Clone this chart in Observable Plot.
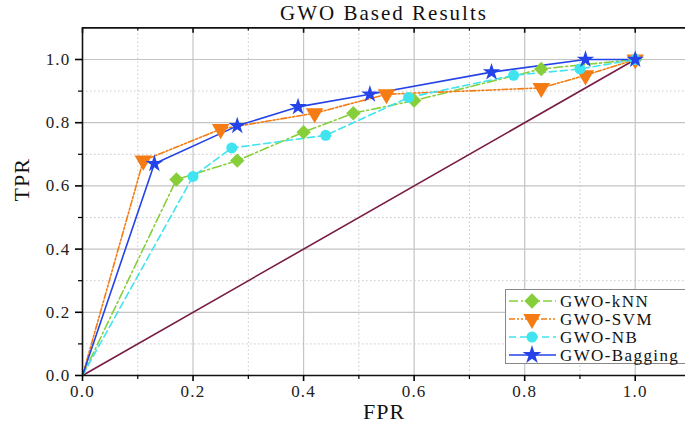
<!DOCTYPE html>
<html><head><meta charset="utf-8">
<script src="https://cdn.jsdelivr.net/npm/d3@7"></script>
<script src="https://cdn.jsdelivr.net/npm/@observablehq/plot@0.6"></script>
<style>
body{margin:0;background:#fff}
#wrap{position:relative;width:685px;height:432px;overflow:hidden;background:#fff}
#legend{position:absolute;left:0;top:0}
#wrap svg text{font-family:'Liberation Serif','Times New Roman',serif !important}
#wrap g[aria-label*="tick label"] text{font-size:17px !important;letter-spacing:1.2px}
</style>
</head><body><div id="wrap"></div>
<script>
// ---- data ----
const seriesNames = ["GWO-kNN", "GWO-SVM", "GWO-NB", "GWO-Bagging"];
const fprKNN = [0, 0.17, 0.28, 0.40, 0.49, 0.60, 0.83, 1.0];
const tprKNN = [0, 0.62, 0.68, 0.77, 0.83, 0.87, 0.97, 1.0];
const fprSVM = [0, 0.11, 0.25, 0.42, 0.55, 0.83, 0.91, 1.0];
const tprSVM = [0, 0.68, 0.78, 0.83, 0.89, 0.91, 0.95, 1.0];
const fprNB  = [0, 0.20, 0.27, 0.44, 0.59, 0.78, 0.90, 1.0];
const tprNB  = [0, 0.63, 0.72, 0.76, 0.88, 0.95, 0.97, 1.0];
const fprBag = [0, 0.13, 0.28, 0.39, 0.52, 0.74, 0.91, 1.0];
const tprBag = [0, 0.67, 0.79, 0.85, 0.89, 0.96, 1.0, 1.0];
const diagFPR = [0, 1];
const diagTPR = [0, 1];
const majorTicks = [0, 0.2, 0.4, 0.6, 0.8, 1.0];
const minorTicks = [0.1, 0.3, 0.5, 0.7, 0.9];

// ---- styles ----
const colors = ["#86cf3a", "#f57c12", "#3fe4ef", "#2443e8"];
const dashes = ["9,3,2,3", "6,2,2,2,2,2", "7,4", null];
const symbols = ["diamond2", "triangle", "circle", "star"];
const rotations = [0, 180, 0, 0];
const sizes = [6.5, 6.5, 5.5, 5.5];
const serif = "'Liberation Serif', 'Times New Roman', serif";

const xsList = [fprKNN, fprSVM, fprNB, fprBag];
const ysList = [tprKNN, tprSVM, tprNB, tprBag];
const series = seriesNames.map((name, i) => xsList[i].map((x, j) => ({name, fpr: x, tpr: ysList[i][j]})));
const diag = diagFPR.map((x, j) => ({fpr: x, tpr: diagTPR[j]}));

const marks = [
  Plot.ruleX(minorTicks, {y1: 0, y2: 1.1, stroke: "#c9c9c9", strokeDasharray: "1.5,2.5", strokeOpacity: 1}),
  Plot.ruleY(minorTicks, {x1: 0, x2: 1.1, stroke: "#c9c9c9", strokeDasharray: "1.5,2.5", strokeOpacity: 1}),
  Plot.ruleX(majorTicks.slice(1), {y1: 0, y2: 1.1, stroke: "#c4c4c4", strokeWidth: 1.2}),
  Plot.ruleY(majorTicks.slice(1), {x1: 0, x2: 1.1, stroke: "#c4c4c4", strokeWidth: 1.2}),
  Plot.line(diag, {x: "fpr", y: "tpr", stroke: "#781c45", strokeWidth: 1.6})
];
series.forEach((d, i) => {
  marks.push(Plot.line(d, {x: "fpr", y: "tpr", stroke: colors[i], strokeWidth: 1.6, strokeDasharray: dashes[i]}));
});
series.forEach((d, i) => {
  marks.push(Plot.dot(d.slice(1), {x: "fpr", y: "tpr", symbol: () => symbols[i], fill: colors[i], r: sizes[i], rotate: rotations[i], stroke: "none"}));
});
marks.push(
  // frame
  Plot.ruleX([0], {y1: 0, y2: 1.1, stroke: "#111", strokeWidth: 1.6}),
  Plot.ruleY([0], {x1: 0, x2: 1.1, stroke: "#111", strokeWidth: 1.6}),
  Plot.ruleY([1.1], {x1: 0, x2: 1.1, stroke: "#111", strokeWidth: 1.6}),
  // top inner ticks
  Plot.ruleX(majorTicks, {y1: 1.1, y2: 1.083, stroke: "#111", strokeWidth: 1.6}),
  Plot.ruleX(minorTicks, {y1: 1.1, y2: 1.09, stroke: "#111", strokeWidth: 1.2}),
  // axes
  Plot.axisX(majorTicks, {tickFormat: d => d.toFixed(1), tickSize: 6, tickPadding: 3, strokeWidth: 1.6, label: null, fill: "#222", fontSize: 17}),
  Plot.axisX(minorTicks, {text: null, tickSize: 4, strokeWidth: 1.2, label: null}),
  Plot.axisY(majorTicks, {tickFormat: d => d.toFixed(1), tickSize: 7, tickPadding: 5, strokeWidth: 1.6, label: null, fill: "#222", fontSize: 17}),
  Plot.axisY(minorTicks, {text: null, tickSize: 4, strokeWidth: 1.2, label: null}),
  Plot.text(["GWO Based Results"], {frameAnchor: "top", lineAnchor: "middle", dy: -14, fontSize: 21, fill: "#111", className: "ttl"}),
  Plot.text(["FPR"], {frameAnchor: "bottom", lineAnchor: "middle", dy: 36, fontSize: 22, fill: "#111"}),
  Plot.text(["TPR"], {frameAnchor: "left", lineAnchor: "middle", dx: -61, rotate: -90, fontSize: 22, fill: "#111"})
);

const chart = Plot.plot({
  width: 685, height: 432,
  marginLeft: 82, marginRight: 0, marginTop: 27, marginBottom: 57,
  x: {domain: [0, 1.1], range: [82, 690]},
  y: {domain: [0, 1.1], range: [375, 27.4]},
  style: {background: "#fff", overflow: "visible", fontFamily: serif, fontSize: "17px", letterSpacing: "1px"},
  marks
});
const wrap = document.getElementById("wrap");
wrap.appendChild(chart);
d3.select(chart).selectAll(".ttl text").style("letter-spacing", "2px");

// ---- legend overlay ----
const lg = d3.select(wrap).append("svg").attr("id", "legend").attr("width", 685).attr("height", 432);
lg.append("rect").attr("x", 505.5).attr("y", 289.5).attr("width", 190).attr("height", 74)
  .attr("fill", "#fff").attr("stroke", "#888").attr("stroke-width", 1);
const symGen = [d3.symbolDiamond2, d3.symbolTriangle, d3.symbolCircle, d3.symbolStar];
const symArea = [150, 130, 95, 110];
seriesNames.forEach((name, i) => {
  const y = 301 + i * 18;
  lg.append("line").attr("x1", 509).attr("x2", 556).attr("y1", y).attr("y2", y)
    .attr("stroke", colors[i]).attr("stroke-width", 1.6).attr("stroke-dasharray", dashes[i]);
  lg.append("path").attr("d", d3.symbol(symGen[i], symArea[i])())
    .attr("transform", `translate(532,${y}) rotate(${rotations[i]})`).attr("fill", colors[i]);
  lg.append("text").attr("x", 560).attr("y", y).attr("dy", "0.35em")
    .attr("font-size", 17).attr("letter-spacing", "1.4px")
    .attr("fill", "#111").text(name);
});
</script>
</body></html>
